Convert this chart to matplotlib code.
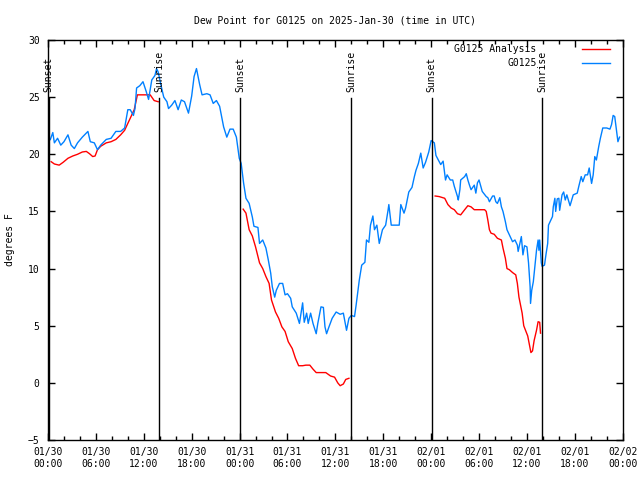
import matplotlib
matplotlib.use('Agg')
import matplotlib.pyplot as plt
import matplotlib.dates as mdates
import matplotlib.transforms as mtransforms
import numpy as np

plt.rcParams['font.family'] = 'DejaVu Sans Mono'
plt.rcParams['font.size'] = 7

# Data: hours after 2025-01-30 00:00 UTC
obs_hours = [0.0, 0.3, 0.6, 0.8, 1.2, 1.6, 2.0, 2.5, 2.9, 3.3, 3.7, 4.3, 5.0, 5.3, 5.8,
             6.2, 6.6, 7.3, 7.9, 8.5, 9.1, 9.6, 10.0, 10.3, 10.7, 10.9, 11.1, 11.5, 11.9,
             12.3, 12.6, 13.0, 13.4, 13.6, 13.8, 14.2, 14.5, 14.9, 15.1, 15.5, 15.9, 16.3,
             16.7, 17.1, 17.6, 18.0, 18.3, 18.6, 19.0, 19.3, 19.9, 20.3, 20.7, 21.1, 21.5,
             22.0, 22.4, 22.8, 23.2, 23.6, 23.96, 24.2, 24.5, 24.8, 25.2, 25.6, 25.8, 26.3,
             26.5, 26.9, 27.3, 27.6, 27.9, 28.1, 28.4, 28.6, 29.0, 29.4, 29.7, 30.0, 30.4,
             30.6, 31.1, 31.5, 31.9, 32.1, 32.4, 32.6, 32.9, 33.2, 33.6, 33.8, 34.2, 34.5,
             34.7, 34.9, 35.2, 35.6, 36.1, 36.6, 37.0, 37.4, 37.7, 38.0, 38.4, 38.6, 39.0,
             39.3, 39.7, 39.9, 40.2, 40.4, 40.7, 40.9, 41.2, 41.5, 41.9, 42.3, 42.6, 42.7,
             43.0, 44.0, 44.2, 44.6, 44.8, 45.2, 45.6, 45.9, 46.1, 46.4, 46.7, 47.0, 47.3,
             47.7, 48.0, 48.4, 48.6, 49.2, 49.5, 49.8, 50.0, 50.4, 50.7, 50.9, 51.3, 51.4,
             51.6, 51.7, 52.2, 52.4, 52.6, 52.8, 53.0, 53.4, 53.6, 53.8, 54.0, 54.4, 54.9,
             55.1, 55.3, 55.7, 55.9, 56.1, 56.3, 56.6, 56.8, 57.0, 57.3, 57.5, 57.9, 58.2,
             58.5, 58.8, 58.9, 59.3, 59.5, 59.7, 60.0, 60.2, 60.4, 60.45, 60.6, 60.8, 61.0,
             61.2, 61.4, 61.5, 61.6, 61.8, 61.9, 62.2, 62.4, 62.6, 62.7, 62.9, 63.2, 63.3,
             63.5, 63.6, 63.8, 64.0, 64.1, 64.4, 64.6, 64.8, 65.0, 65.4, 65.8, 66.3, 66.5,
             66.8, 67.0, 67.3, 67.6, 67.8, 68.1, 68.3, 68.5, 68.7, 69.0, 69.2, 69.5, 70.0,
             70.4, 70.6, 70.8, 71.0, 71.2, 71.4, 71.6]
obs_dewpt = [21.1, 21.3, 21.9, 21.0, 21.4, 20.8, 21.1, 21.7, 20.8, 20.5, 21.0, 21.5, 22.0, 21.1, 21.0,
             20.4, 20.8, 21.3, 21.4, 22.0, 22.0, 22.3, 23.9, 23.9, 23.4, 24.0, 25.8, 26.0, 26.35,
             25.5, 24.8, 26.5, 26.9, 27.5, 27.2, 25.9, 25.0, 24.6, 24.0, 24.3, 24.7, 23.9,
             24.75, 24.6, 23.6, 25.1, 26.8, 27.5, 26.1, 25.2, 25.3, 25.2, 24.45, 24.7, 24.2,
             22.4, 21.5, 22.2, 22.2, 21.5, 19.65, 19.2, 17.5, 16.15, 15.7, 14.5, 13.7, 13.6,
             12.2, 12.5, 11.8, 10.75, 9.6, 8.4, 7.5, 8.1, 8.7, 8.7, 7.7, 7.8, 7.4,
             6.65, 6.1, 5.2, 7.0, 5.3, 6.1, 5.2, 6.1, 5.2, 4.3, 5.2, 6.65, 6.6,
             4.9, 4.3, 4.9, 5.65, 6.2, 6.0, 6.1, 4.6, 5.65, 5.9, 5.8, 6.8, 9.0,
             10.3, 10.55, 12.5, 12.3, 13.8, 14.6, 13.4, 13.8, 12.2, 13.4, 13.8, 15.1, 15.6,
             13.8, 13.8, 15.6, 14.85, 15.3, 16.7, 17.1, 18.05, 18.6, 19.2, 20.1, 18.8, 19.3,
             20.2, 21.2, 21.0, 19.9, 19.1, 19.4, 17.75, 18.2, 17.75, 17.75, 17.2, 16.3, 16.0,
             16.9, 17.75, 18.05, 18.3, 17.75, 17.3, 16.9, 17.3, 16.6, 17.5, 17.75, 16.75, 16.3,
             16.2, 15.85, 16.35, 16.35, 15.85, 15.7, 16.2, 15.4, 15.0, 14.1, 13.4, 12.8, 12.35,
             12.5, 12.05, 11.5, 12.8, 11.2, 12.0, 11.9, 10.5, 8.4, 6.95, 8.1, 8.85, 10.2,
             11.6, 12.5, 11.6, 12.5, 10.5, 10.2, 10.3, 11.3, 12.2, 13.8, 14.1, 14.55, 15.4,
             16.15, 15.0, 16.1, 16.15, 15.1, 16.45, 16.7, 16.0, 16.45, 15.5, 16.45, 16.6, 17.2,
             18.05, 17.6, 18.2, 18.2, 18.8, 17.45, 18.2, 19.8, 19.5, 20.7, 21.4, 22.3, 22.3,
             22.2, 22.6, 23.4, 23.3, 22.2, 21.1, 21.5]

# Analysis only exists overnight (NaN separates the nights)
ana_hours = [0.4, 0.8, 1.4, 1.9, 2.5, 3.1, 3.7, 4.3, 4.8, 5.2, 5.6, 5.9, 6.2, 6.6, 7.3, 7.9,
             8.5, 9.1, 9.6, 10.0, 10.4, 10.8, 11.2, 12.8, 13.3, 13.8, 14.0,
             24.45, 24.8, 25.2, 25.6, 26.0, 26.5, 26.9, 27.3, 27.7, 28.0, 28.5, 28.9, 29.3,
             29.7, 30.1, 30.6, 31.0, 31.4, 31.9, 32.3, 32.8, 33.2, 33.6, 34.8, 35.4, 35.9,
             36.3, 36.6, 37.0, 37.3, 37.7, 38.0,
             48.5, 49.0, 49.7, 50.1, 50.5, 50.9, 51.3, 51.7, 52.2, 52.6, 53.0, 53.4, 54.7,
             54.9, 55.1, 55.3, 55.5, 55.9, 56.3, 56.8, 57.0, 57.3, 57.5, 57.8, 58.2, 58.6,
             58.8, 59.0, 59.4, 59.6, 60.1, 60.5, 60.7, 60.9, 61.2, 61.4, 61.6, 61.7]
ana_dewpt = [19.35, 19.15, 19.05, 19.3, 19.65, 19.85, 20.0, 20.2, 20.25, 20.05, 19.8, 19.85,
             20.4, 20.7, 21.0, 21.1, 21.3, 21.7, 22.1, 22.7, 23.3, 23.9, 25.2, 25.2, 24.7,
             24.6, np.nan,
             15.2, 14.85, 13.4, 12.85, 11.9, 10.5, 10.0, 9.3, 8.7, 7.25, 6.2, 5.65, 4.9,
             4.5, 3.6, 3.0, 2.15, 1.5, 1.5, 1.55, 1.55, 1.2, 0.9, 0.9, 0.6, 0.5,
             0.0, -0.25, -0.1, 0.3, 0.4, np.nan,
             16.35, 16.3, 16.15, 15.6, 15.3, 15.15, 14.8, 14.7, 15.15, 15.5, 15.4, 15.15,
             15.15, 15.0, 14.25, 13.4, 13.1, 13.0, 12.65, 12.5, 11.8, 10.9, 10.0, 9.9, 9.65,
             9.45, 8.7, 7.5, 6.1, 5.0, 4.1, 2.65, 2.8, 3.7, 4.6, 5.35, 5.3, 4.35]

sun_times = ['2025-01-30T00:05', '2025-01-30T13:57', '2025-01-31T00:05',
             '2025-01-31T13:58', '2025-02-01T00:05', '2025-02-01T13:56']
sun_labels = ['Sunset', 'Sunrise', 'Sunset', 'Sunrise', 'Sunset', 'Sunrise']

base = np.datetime64('2025-01-30T00:00')
def to_time(hours):
    return base + (np.array(hours) * 3600).astype('timedelta64[s]')

fig = plt.figure(figsize=(6.4, 4.8), dpi=100)
ax = fig.add_axes([0.075, 0.0833, 0.898, 0.8334])

ax.plot(to_time(ana_hours), ana_dewpt, color='#ff0000', linewidth=1.0)
ax.plot(to_time(obs_hours), obs_dewpt, color='#0080ff', linewidth=1.0)

# sunrise / sunset markers
trans = mtransforms.blended_transform_factory(ax.transData, ax.transAxes)
for t, lab in zip(sun_times, sun_labels):
    t = np.datetime64(t)
    ax.axvline(t, ymin=0, ymax=0.855, color='black', linewidth=1.0)
    ax.text(t, 0.87, lab, rotation=90, ha='center', va='bottom', transform=trans)

# axes
ax.set_xlim(np.datetime64('2025-01-30T00:00'), np.datetime64('2025-02-02T00:00'))
ax.set_ylim(-5, 30)
ax.set_yticks(np.arange(-5, 31, 5))
ax.xaxis.set_major_locator(mdates.HourLocator(byhour=range(0, 24, 6)))
ax.xaxis.set_minor_locator(mdates.HourLocator(byhour=range(0, 24, 2)))
ax.xaxis.set_major_formatter(mdates.DateFormatter('%m/%d\n%H:%M'))
ax.tick_params(which='both', direction='in', top=True, right=True, color='black')
ax.tick_params(which='major', length=5, width=1)
ax.tick_params(which='minor', length=3, width=1)
ax.tick_params(axis='x', pad=5)
ax.tick_params(axis='y', pad=6)
for s in ax.spines.values():
    s.set_linewidth(1.0)

ax.set_title('Dew Point for G0125 on 2025-Jan-30 (time in UTC)', pad=12, fontsize=7)
ax.set_ylabel('degrees F')
ax.yaxis.set_label_coords(-0.058, 0.5)

# gnuplot-style key, text right-justified
key_items = [('G0125 Analysis', '#ff0000'), ('G0125', '#0080ff')]
for i, (lab, col) in enumerate(key_items):
    ky = 0.9775 - i * 0.035
    ax.plot([0.929, 0.977], [ky, ky], color=col, linewidth=1.0, transform=ax.transAxes)
    ax.text(0.85, ky, lab, ha='right', va='center', transform=ax.transAxes)

fig.savefig('out.png', dpi=100)
